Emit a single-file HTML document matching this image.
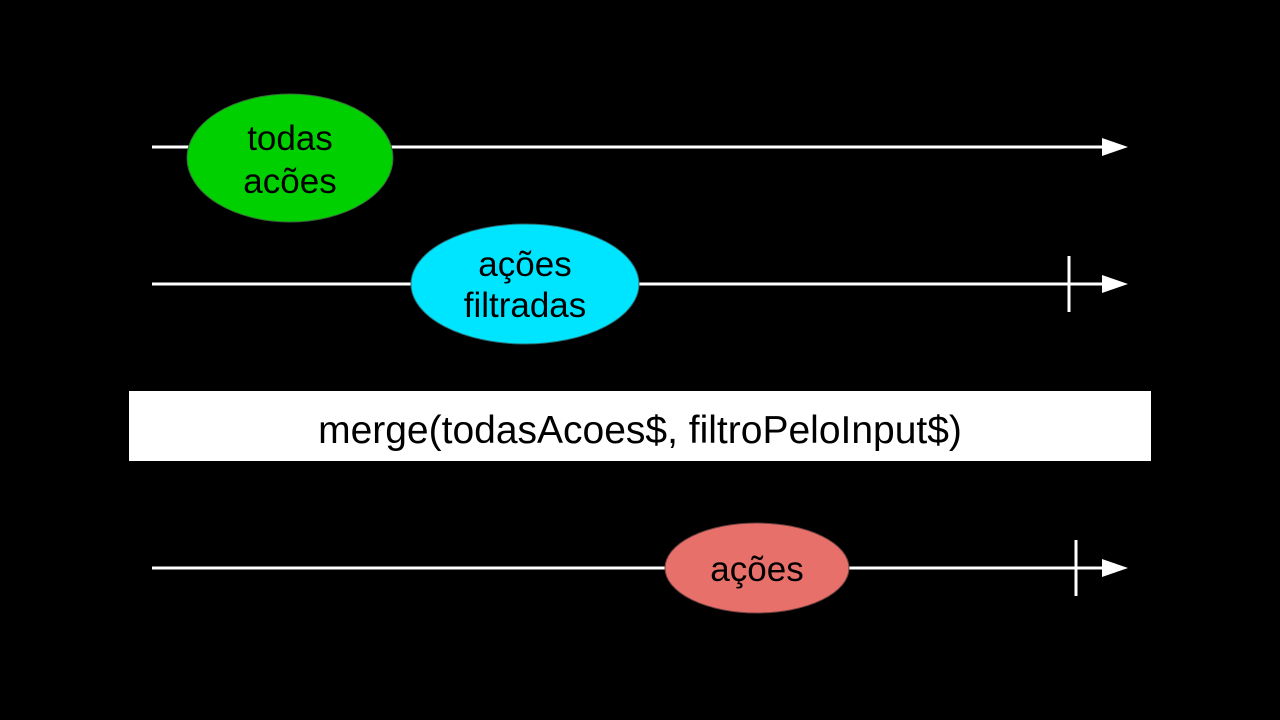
<!DOCTYPE html>
<html><head><style>html,body{margin:0;padding:0;background:#000;}</style></head>
<body>
<svg width="1280" height="720" xmlns="http://www.w3.org/2000/svg" style="display:block">
<rect width="1280" height="720" fill="#000"/>
<g stroke="#fff" stroke-width="3">
<line x1="152" y1="147" x2="1106" y2="147"/>
<line x1="152" y1="284" x2="1106" y2="284"/>
<line x1="152" y1="568" x2="1106" y2="568"/>
<line x1="1069" y1="256" x2="1069" y2="312"/>
<line x1="1076" y1="540" x2="1076" y2="596"/>
</g>
<g fill="#fff">
<polygon points="1102,138 1128,147 1102,156"/>
<polygon points="1102,275 1128,284 1102,293"/>
<polygon points="1102,559 1128,568 1102,577"/>
</g>
<g font-family="Liberation Sans, sans-serif" font-size="35" text-anchor="middle" fill="#000">
<ellipse cx="290" cy="158" rx="103" ry="64" fill="#00d000" stroke="#3a6a3a" stroke-width="1"/>
<text x="290" y="150">todas</text><text x="290" y="193">acões</text>
<ellipse cx="525" cy="284" rx="114" ry="60" fill="#00e5ff" stroke="#2a6a70" stroke-width="1"/>
<text x="525" y="276">ações</text><text x="525" y="317">filtradas</text>
<ellipse cx="757" cy="568" rx="92" ry="45" fill="#e8706a" stroke="#704040" stroke-width="1"/>
<text x="757" y="581">ações</text>
<rect x="129" y="391" width="1022" height="70" fill="#fff"/>
<text x="640" y="443" font-size="39">merge(todasAcoes$, filtroPeloInput$)</text>
</g>
</svg>
</body></html>
